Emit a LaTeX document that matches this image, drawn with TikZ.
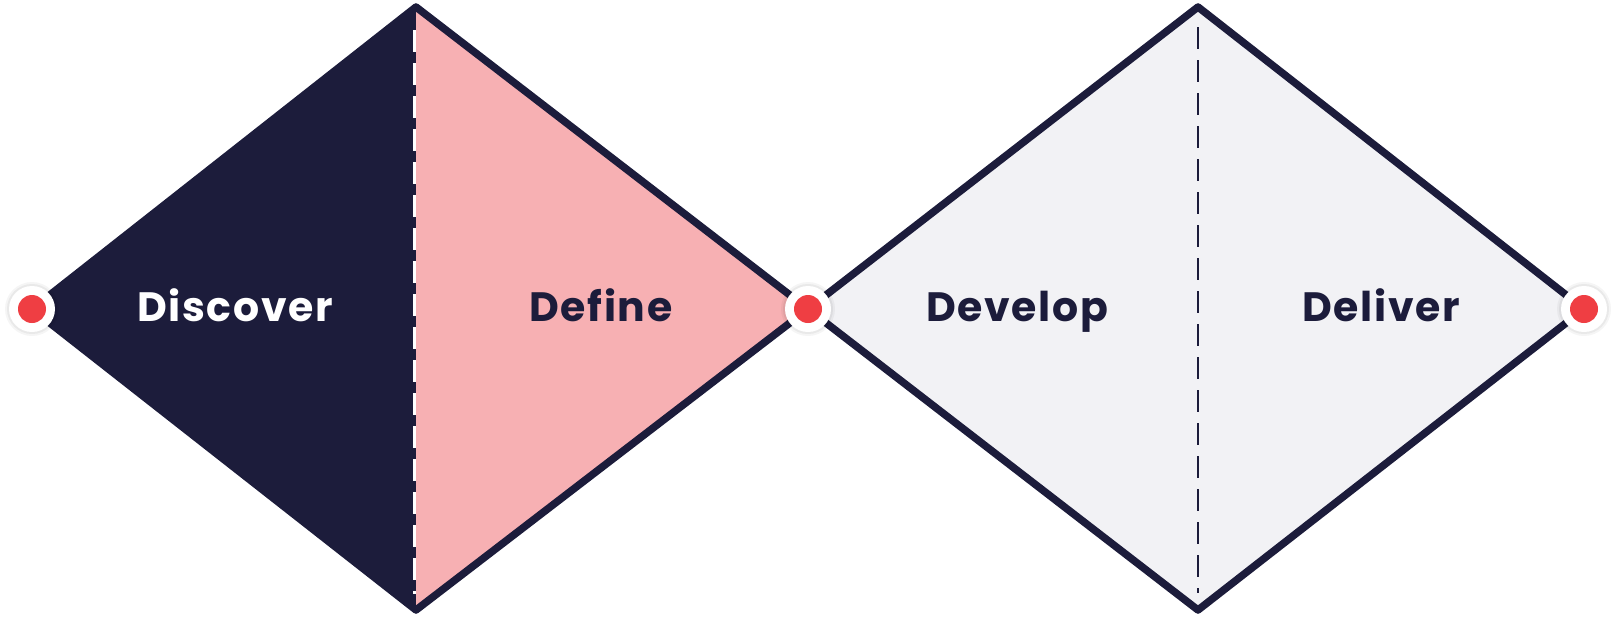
\documentclass[tikz,border=0pt]{standalone}
\usepackage{fontspec}
\setmainfont{Poppins}
\definecolor{navy}{HTML}{1C1C3B}
\definecolor{pinkfill}{HTML}{F7B0B3}
\definecolor{greyfill}{HTML}{F2F2F5}
\definecolor{dotred}{HTML}{EF3E43}
\tikzset{
  outline/.style={draw=navy, line width=7.5pt, line join=round},
  divider/.style={line width=2pt, dash pattern=on 22pt off 11pt},
  label/.style={font=\bfseries\fontsize{41}{45}\selectfont\addfontfeatures{LetterSpace=4}, anchor=base},
  dotring/.style={circle, fill=white, minimum size=46pt, inner sep=0pt},
  dotcore/.style={circle, fill=dotred, minimum size=28pt, inner sep=0pt},
}
\begin{document}
\begin{tikzpicture}[x=1pt,y=-1pt]
\useasboundingbox (0,0) rectangle (1616,616);
% vertices
\coordinate (L) at (32,309);
\coordinate (T1) at (416,7);
\coordinate (B1) at (416,610);
\coordinate (M) at (808,309);
\coordinate (T2) at (1198,7);
\coordinate (B2) at (1198,610);
\coordinate (R) at (1584,309);
% fills
\fill[navy] (L) -- (T1) -- (B1) -- cycle;
\fill[pinkfill] (T1) -- (M) -- (B1) -- cycle;
\fill[greyfill] (M) -- (T2) -- (R) -- (B2) -- cycle;
% dividers
\coordinate (d1t) at (414.5,30);
\coordinate (d1b) at (414.5,594);
\coordinate (d2t) at (1198,27);
\coordinate (d2b) at (1198,593);
\draw[divider, white, line width=3pt] (d1t) -- (d1b);
\draw[divider, navy] (d2t) -- (d2b);
% outlines
\draw[outline] (L) -- (T1) -- (M) -- (B1) -- cycle;
\draw[outline] (M) -- (T2) -- (R) -- (B2) -- cycle;
% labels
\node[label, text=white] (discover) at (235,321) {Discover};
\node[label, text=navy] (define) at (601,321) {Define};
\node[label, text=navy] (develop) at (1017,321) {Develop};
\node[label, text=navy] (deliver) at (1381,321) {Deliver};
% dots
\foreach \n/\p in {dl/L, dm/M, dr/R}{
  \fill[black, opacity=0.04] (\p) circle (27pt);
  \fill[black, opacity=0.05] (\p) circle (25pt);
  \node[dotring] (\n ring) at (\p) {};
  \node[dotcore] (\n) at (\p) {};
}
\end{tikzpicture}
\end{document}
